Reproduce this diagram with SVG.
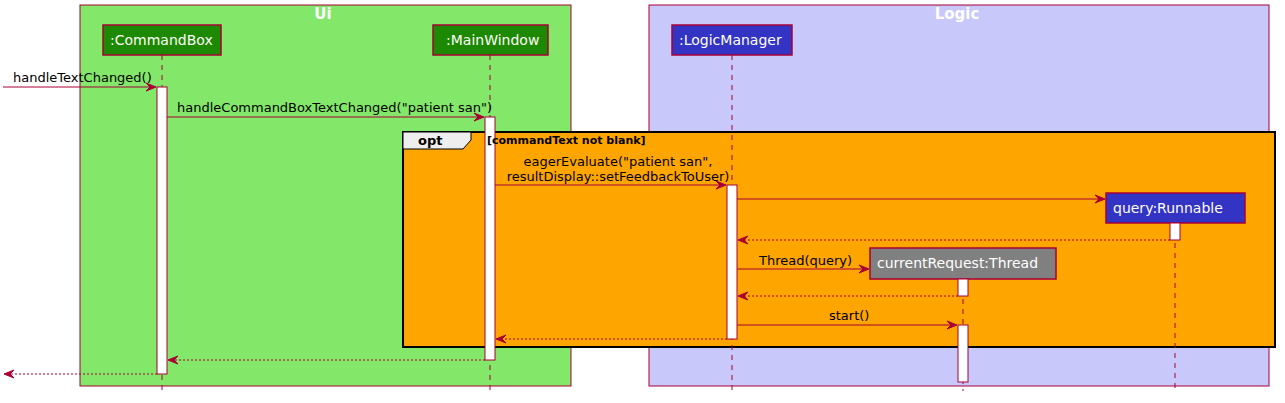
<svg xmlns="http://www.w3.org/2000/svg" width="1285" height="403" viewBox="0 0 1285 403">
<style>
text{font-family:"DejaVu Sans","Liberation Sans",sans-serif;}
.msg{font-size:13px;fill:#000;}
.ptxt{font-size:14px;fill:#fff;}
.title{font-size:15px;font-weight:bold;fill:#fff;text-anchor:middle;}
.life{stroke:#A80036;stroke-width:1;stroke-dasharray:5,5;fill:none;}
.act{fill:#fff;stroke:#A80036;stroke-width:1;}
.call{stroke:#A80036;stroke-width:1;fill:none;}
.ret{stroke:#A80036;stroke-width:1;stroke-dasharray:2,2;fill:none;}
.head{fill:#A80036;stroke:#A80036;}
</style>
<g id="box-ui"><rect x="80" y="5" width="491" height="381" fill="#83E769" stroke="#A80036"/><text class="title" x="323" y="19">Ui</text></g>
<g id="box-logic"><rect x="649" y="5" width="620" height="381" fill="#C8C8FA" stroke="#A80036"/><text class="title" x="957" y="19">Logic</text></g>
<g id="opt">
<rect x="403" y="132" width="872" height="215" fill="#FFA500" stroke="#000" stroke-width="2"/>
<path d="M403,132 H471 V140 L463,149 H403 Z" fill="#EEEEEE" stroke="#000" stroke-width="1"/>
<text x="418" y="145" style="font-size:13px;font-weight:bold;fill:#000">opt</text>
</g>
<g id="lifelines">
<line class="life" x1="162" y1="55" x2="162" y2="391"/>
<line class="life" x1="490" y1="55" x2="490" y2="391"/>
<line class="life" x1="732" y1="55" x2="732" y2="391"/>
<line class="life" x1="1175" y1="223" x2="1175" y2="391"/>
<line class="life" x1="963" y1="279" x2="963" y2="391"/>
</g>
<g id="p-commandbox"><rect x="103" y="25" width="118" height="30" fill="#1D8900" stroke="#A80036" stroke-width="1.5"/><text class="ptxt" x="110" y="45">:CommandBox</text></g>
<g id="p-mainwindow"><rect x="433" y="25" width="115" height="30" fill="#1D8900" stroke="#A80036" stroke-width="1.5"/><text class="ptxt" x="446" y="45">:MainWindow</text></g>
<g id="p-logicmanager"><rect x="672" y="25" width="120" height="30" fill="#3333C4" stroke="#A80036" stroke-width="1.5"/><text class="ptxt" x="679" y="45">:LogicManager</text></g>
<g id="p-runnable"><rect x="1106" y="193" width="139" height="30" fill="#3333C4" stroke="#A80036" stroke-width="1.5"/><text class="ptxt" x="1113" y="213">query:Runnable</text></g>
<g id="p-thread"><rect x="870" y="248" width="186" height="31" fill="#808080" stroke="#A80036" stroke-width="1.5"/><text class="ptxt" x="877" y="268">currentRequest:Thread</text></g>
<g id="activations">
<rect class="act" x="157" y="87" width="10" height="287"/>
<rect class="act" x="485" y="117" width="10" height="243"/>
<rect class="act" x="727" y="185" width="10" height="154"/>
<rect class="act" x="1170" y="223" width="10" height="17"/>
<rect class="act" x="958" y="279" width="10" height="17"/>
<rect class="act" x="958" y="325" width="10" height="57"/>
</g>
<g id="opt-guard"><text x="487" y="144" style="font-size:11px;font-weight:bold;fill:#000">[commandText not blank]</text></g>
<g id="connectors">
<line class="call" x1="3" y1="87" x2="155" y2="87"/><polygon class="head" points="146,83 156,87 146,91 150,87"/>
<text class="msg" x="13" y="82">handleTextChanged()</text>
<line class="call" x1="167" y1="117" x2="483" y2="117"/><polygon class="head" points="474,113 484,117 474,121 478,117"/>
<text class="msg" x="177" y="112">handleCommandBoxTextChanged("patient san")</text>
<line class="call" x1="495" y1="185" x2="725" y2="185"/><polygon class="head" points="716,181 726,185 716,189 720,185"/>
<text class="msg" x="618" y="166" text-anchor="middle">eagerEvaluate("patient san",</text>
<text class="msg" x="618" y="181" text-anchor="middle">resultDisplay::setFeedbackToUser)</text>
<line class="call" x1="737" y1="199" x2="1104" y2="199"/><polygon class="head" points="1095,195 1105,199 1095,203 1099,199"/>
<line class="ret" x1="1170" y1="240" x2="739" y2="240"/><polygon class="head" points="748,236 738,240 748,244 744,240"/>
<line class="call" x1="737" y1="269" x2="868" y2="269"/><polygon class="head" points="859,265 869,269 859,273 863,269"/>
<text class="msg" x="759" y="265">Thread(query)</text>
<line class="ret" x1="958" y1="296" x2="739" y2="296"/><polygon class="head" points="748,292 738,296 748,300 744,296"/>
<line class="call" x1="737" y1="325" x2="956" y2="325"/><polygon class="head" points="947,321 957,325 947,329 951,325"/>
<text class="msg" x="829" y="320">start()</text>
<line class="ret" x1="727" y1="339" x2="497" y2="339"/><polygon class="head" points="506,335 496,339 506,343 502,339"/>
<line class="ret" x1="485" y1="360" x2="169" y2="360"/><polygon class="head" points="178,356 168,360 178,364 174,360"/>
<line class="ret" x1="157" y1="374" x2="5" y2="374"/><polygon class="head" points="14,370 4,374 14,378 10,374"/>
</g>
</svg>
